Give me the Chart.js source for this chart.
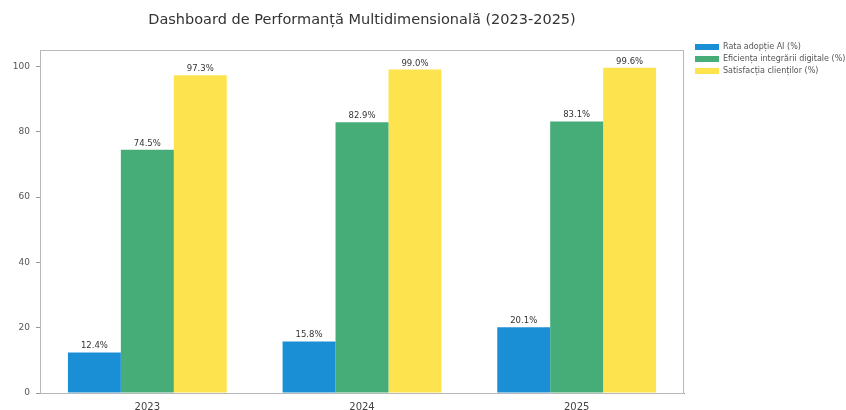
<!DOCTYPE html>
<html>
<head>
<meta charset="utf-8">
<script src="https://cdn.jsdelivr.net/npm/chart.js@4.4.1/dist/chart.umd.min.js"></script>
<style>
  html, body { margin: 0; padding: 0; background: #ffffff; }
  #wrap { width: 846px; height: 410px; position: relative; }
</style>
</head>
<body>
<div id="wrap"><canvas id="c" width="846" height="410"></canvas></div>
<script>
// Years on the x axis
const years = ['2023', '2024', '2025'];

// Series values (%)
const adoptieAI = [12.4, 15.8, 20.1];
const integrareDigitala = [74.5, 82.9, 83.1];
const satisfactieClienti = [97.3, 99.0, 99.6];

// Series names
const seriesNames = [
  'Rata adopție AI (%)',
  'Eficiența integrării digitale (%)',
  'Satisfacția clienților (%)'
];

// Y axis tick values
const yTicks = [0, 20, 40, 60, 80, 100];

const chartTitle = 'Dashboard de Performanță Multidimensională (2023-2025)';

const colors = ['#1b8fd6', '#47ad78', '#fde44f'];
const FONT = '"DejaVu Sans", "Liberation Sans", sans-serif';

// Title centred over the plotting area, value labels, frame and legend
const decorations = {
  id: 'decorations',
  afterDraw(chart) {
    const { ctx, chartArea } = chart;
    ctx.save();

    // frame around the plot area
    ctx.strokeStyle = '#b8b8b8';
    ctx.lineWidth = 1;
    ctx.strokeRect(chartArea.left + 0.5, chartArea.top + 0.5,
                   chartArea.right - chartArea.left - 1, chartArea.bottom - chartArea.top);

    // title
    ctx.fillStyle = '#333333';
    ctx.font = '14.5px ' + FONT;
    ctx.textAlign = 'center';
    ctx.textBaseline = 'middle';
    ctx.fillText(chartTitle, (chartArea.left + chartArea.right) / 2, 20);

    // value labels on top of each bar
    ctx.font = '8.5px ' + FONT;
    ctx.fillStyle = '#333333';
    ctx.textBaseline = 'bottom';
    chart.data.datasets.forEach((ds, i) => {
      const meta = chart.getDatasetMeta(i);
      meta.data.forEach((bar, j) => {
        ctx.fillText(ds.data[j].toFixed(1) + '%', bar.x, bar.y - 2);
      });
    });

    // legend, outside the plot on the right
    ctx.textAlign = 'left';
    ctx.textBaseline = 'middle';
    ctx.font = '8px ' + FONT;
    const lx = chartArea.right + 11;
    chart.data.datasets.forEach((ds, i) => {
      const ly = 47 + i * 12;
      ctx.fillStyle = ds.backgroundColor;
      ctx.fillRect(lx, ly - 3, 24, 6);
      ctx.fillStyle = '#555555';
      ctx.fillText(ds.label, lx + 28, ly);
    });

    ctx.restore();
  }
};

new Chart(document.getElementById('c'), {
  type: 'bar',
  data: {
    labels: years,
    datasets: [
      { label: seriesNames[0], data: adoptieAI, backgroundColor: colors[0] },
      { label: seriesNames[1], data: integrareDigitala, backgroundColor: colors[1] },
      { label: seriesNames[2], data: satisfactieClienti, backgroundColor: colors[2] }
    ]
  },
  options: {
    responsive: false,
    animation: false,
    layout: { padding: { left: 0, right: 162, top: 50, bottom: 0 } },
    datasets: {
      bar: { categoryPercentage: 0.74, barPercentage: 1.0, borderWidth: 0 }
    },
    plugins: {
      legend: { display: false },
      title: { display: false },
      tooltip: { enabled: false }
    },
    scales: {
      x: {
        offset: true,
        grid: { display: false, drawOnChartArea: false },
        border: { display: true, color: '#999999' },
        ticks: { color: '#444444', font: { family: FONT, size: 10 }, padding: 0 },
        afterFit(scale) { scale.height = 17; }
      },
      y: {
        min: 0,
        max: 105,
        grid: { drawOnChartArea: false, drawTicks: true, tickLength: 4, color: '#999999' },
        border: { display: true, color: '#999999' },
        ticks: { color: '#555555', font: { family: FONT, size: 9 }, padding: 6 },
        afterBuildTicks(scale) { scale.ticks = yTicks.map(v => ({ value: v })); },
        afterFit(scale) { scale.width = 40; }
      }
    }
  },
  plugins: [decorations]
});
</script>
</body>
</html>
